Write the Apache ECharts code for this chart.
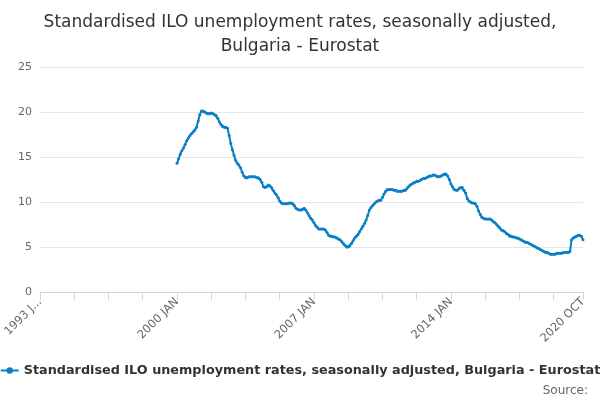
<!DOCTYPE html>
<html>
<head>
<meta charset="utf-8">
<script src="https://cdn.jsdelivr.net/npm/echarts@6/dist/echarts.min.js"></script>
<style>html,body{margin:0;padding:0;background:#fff}#chart{width:600px;height:400px}</style>
</head>
<body>
<div id="chart"></div>
<script>
// 月度数据 2000 JAN - 2020 OCT, 之前为空
var months = ['JAN','FEB','MAR','APR','MAY','JUN','JUL','AUG','SEP','OCT','NOV','DEC'];
var y2000 = [14.3,14.8,15.3,15.7,16.0,16.4,16.8,17.1,17.4,17.6,17.8,18.0];
var y2001 = [18.3,19.0,19.7,20.1,20.1,20.0,19.9,19.8,19.8,19.9,19.8,19.7];
var y2002 = [19.6,19.3,18.9,18.6,18.4,18.3,18.3,18.2,17.4,16.5,15.8,15.2];
var y2003 = [14.6,14.3,14.1,13.8,13.3,12.9,12.7,12.7,12.8,12.8,12.8,12.8];
var y2004 = [12.8,12.7,12.7,12.5,12.2,11.7,11.6,11.7,11.9,11.8,11.6,11.3];
var y2005 = [11.0,10.8,10.5,10.1,9.9,9.8,9.8,9.8,9.8,9.9,9.9,9.8];
var y2006 = [9.6,9.3,9.2,9.1,9.1,9.2,9.3,9.1,8.8,8.5,8.2,8.0];
var y2007 = [7.7,7.4,7.2,7.0,7.0,7.0,7.0,6.9,6.6,6.3,6.2,6.2];
var y2008 = [6.1,6.1,6.0,5.9,5.8,5.6,5.4,5.2,5.0,5.0,5.1,5.4];
var y2009 = [5.7,6.0,6.2,6.4,6.7,7.0,7.3,7.6,8.0,8.5,9.1,9.4];
var y2010 = [9.6,9.8,10.0,10.1,10.2,10.2,10.5,10.9,11.2,11.4,11.4,11.4];
var y2011 = [11.4,11.3,11.3,11.2,11.2,11.2,11.2,11.3,11.3,11.5,11.7,11.9];
var y2012 = [12.0,12.1,12.2,12.3,12.3,12.4,12.5,12.6,12.6,12.7,12.8,12.9];
var y2013 = [12.9,13.0,13.0,12.9,12.8,12.8,12.9,13.0,13.1,13.1,12.9,12.5];
var y2014 = [12.0,11.7,11.4,11.3,11.3,11.5,11.6,11.6,11.3,11.0,10.4,10.1];
var y2015 = [10.0,9.9,9.9,9.8,9.5,9.0,8.6,8.3,8.2,8.1,8.1,8.1];
var y2016 = [8.1,8.0,7.8,7.7,7.5,7.3,7.1,6.9,6.8,6.7,6.5,6.4];
var y2017 = [6.2,6.2,6.1,6.1,6.0,6.0,5.9,5.8,5.7,5.6,5.5,5.5];
var y2018 = [5.4,5.3,5.2,5.1,5.0,4.9,4.8,4.7,4.6,4.5,4.4,4.4];
var y2019 = [4.3,4.2,4.2,4.2,4.2,4.3,4.3,4.3,4.3,4.4,4.4,4.4];
var y2020 = [4.4,4.5,5.8,6.0,6.1,6.2,6.3,6.3,6.2,5.8];

var categories = [];
for (var y = 1993; y <= 2020; y++) {
    for (var m = 0; m < 12; m++) {
        if (y === 2020 && m > 9) break;
        categories.push(y + ' ' + months[m]);
    }
}
var values = [];
for (var i = 0; i < 84; i++) values.push(null);
values = values.concat(y2000, y2001, y2002, y2003, y2004, y2005, y2006, y2007, y2008, y2009,
    y2010, y2011, y2012, y2013, y2014, y2015, y2016, y2017, y2018, y2019, y2020);
var last = categories.length - 1;

var myChart = echarts.init(document.getElementById('chart'));
var option = {
    animation: false,
    title: {
        text: 'Standardised ILO unemployment rates, seasonally adjusted,\nBulgaria - Eurostat',
        left: 'center', top: 6,
        textStyle: { fontSize: 17, fontWeight: 'normal', color: '#333', lineHeight: 24, fontFamily: 'DejaVu Sans' }
    },
    grid: { left: 40, right: 17, top: 67, bottom: 108 },
    legend: {
        bottom: 18, left: 'center', itemWidth: 18, itemHeight: 8, itemGap: 4,
        textStyle: { fontSize: 12.8, fontWeight: 'bold', color: '#333', fontFamily: 'DejaVu Sans' },
        data: ['Standardised ILO unemployment rates, seasonally adjusted, Bulgaria - Eurostat']
    },
    graphic: [{ type: 'text', right: 12, bottom: 3,
        style: { text: 'Source:', fontSize: 12, fill: '#666', fontFamily: 'DejaVu Sans' } }],
    xAxis: {
        type: 'category', data: categories, boundaryGap: false,
        axisLine: { lineStyle: { color: '#ccd6eb' } },
        axisTick: { length: 8, lineStyle: { color: '#ccd6eb' },
            interval: function (idx) { return idx % 21 === 0 || idx === last; } },
        axisLabel: {
            rotate: 45, color: '#666', fontSize: 11.5, fontFamily: 'DejaVu Sans',
            interval: function (idx) { return idx % 84 === 0 || idx === last; },
            formatter: function (v, idx) { return idx === 0 ? '1993 J...' : v; }
        }
    },
    yAxis: {
        type: 'value', min: 0, max: 25, interval: 5,
        axisLabel: { color: '#666', fontSize: 11, fontFamily: 'DejaVu Sans' },
        splitLine: { lineStyle: { color: '#e6e6e6' } }
    },
    series: [{
        name: 'Standardised ILO unemployment rates, seasonally adjusted, Bulgaria - Eurostat',
        type: 'line', data: values, connectNulls: false,
        symbol: 'circle', symbolSize: 3, showAllSymbol: true,
        itemStyle: { color: '#0b7fc4' },
        lineStyle: { color: '#0b7fc4', width: 2 }
    }]
};
myChart.setOption(option);
</script>
</body>
</html>
